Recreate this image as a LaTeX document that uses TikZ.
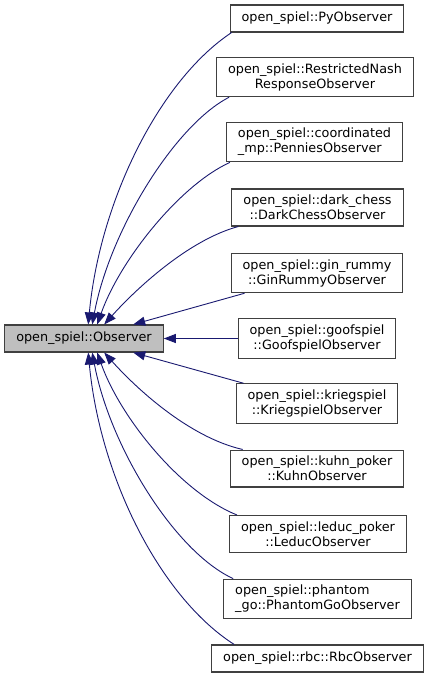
\documentclass[tikz,border=0pt]{standalone}
\usepackage{fontspec}
\setmainfont{DejaVu Sans}
\usetikzlibrary{arrows.meta}
\definecolor{midnight}{HTML}{191970}
\definecolor{boxgray}{HTML}{BFBFBF}
\definecolor{boxline}{HTML}{404040}
\begin{document}
\begin{tikzpicture}[x=1pt,y=-1pt,
  every node/.style={font=\fontsize{12.8}{15}\selectfont},
  cls/.style={draw=boxline,line width=1.1pt,fill=white,align=center,
    inner xsep=11.5pt,inner ysep=6pt,minimum height=27pt},
  base/.style={cls,fill=boxgray},
  inherit/.style={midnight,line width=0.9pt,-{Triangle[length=12pt,width=9pt]}}]
\useasboundingbox (0,0) rectangle (428,677);
\node[base] (obs) at (84,338.5) {open\_spiel::Observer};
\node[cls] (py) at (317,18.5) {open\_spiel::PyObserver};
\node[cls] (rnash) at (315,77) {open\_spiel::RestrictedNash\\ResponseObserver};
\node[cls,align=left] (coord) at (314.5,142) {open\_spiel::coordinated\\\_mp::PenniesObserver};
\node[cls] (dark) at (317.5,207.5) {open\_spiel::dark\_chess\\::DarkChessObserver};
\node[cls] (gin) at (317,273) {open\_spiel::gin\_rummy\\::GinRummyObserver};
\node[cls] (goof) at (317,338.5) {open\_spiel::goofspiel\\::GoofspielObserver};
\node[cls] (krieg) at (317,403.5) {open\_spiel::kriegspiel\\::KriegspielObserver};
\node[cls] (kuhn) at (317,468.5) {open\_spiel::kuhn\_poker\\::KuhnObserver};
\node[cls] (leduc) at (318,534) {open\_spiel::leduc\_poker\\::LeducObserver};
\node[cls,align=left] (phantom) at (317.5,599) {open\_spiel::phantom\\\_go::PhantomGoObserver};
\node[cls] (rbc) at (317.5,658.5) {open\_spiel::rbc::RbcObserver};
\draw[inherit] ([xshift=2pt]py.south west) .. controls (160,80) and (100,200) .. ([xshift=84pt]obs.north west);
\draw[inherit] ([xshift=13pt]rnash.south west) .. controls (175,125) and (110,230) .. ([xshift=88pt]obs.north west);
\draw[inherit] ([xshift=4pt]coord.south west) .. controls (180,185) and (120,260) .. ([xshift=93pt]obs.north west);
\draw[inherit] ([xshift=7pt]dark.south west) .. controls (188,240) and (135,290) .. ([xshift=100pt]obs.north west);
\draw[inherit] ([xshift=14pt]gin.south west) -- ([xshift=129pt]obs.north west);
\draw[inherit] (goof.west) -- (obs.east);
\draw[inherit] ([xshift=8pt]krieg.north west) -- ([xshift=129pt]obs.south west);
\draw[inherit] ([xshift=13pt]kuhn.north west) .. controls (188,437) and (135,387) .. ([xshift=100pt]obs.south west);
\draw[inherit] ([xshift=8pt]leduc.north west) .. controls (180,492) and (120,417) .. ([xshift=93pt]obs.south west);
\draw[inherit] ([xshift=10pt]phantom.north west) .. controls (175,552) and (110,447) .. ([xshift=88pt]obs.south west);
\draw[inherit] ([xshift=23pt]rbc.north west) .. controls (160,597) and (100,477) .. ([xshift=84pt]obs.south west);
\end{tikzpicture}
\end{document}
